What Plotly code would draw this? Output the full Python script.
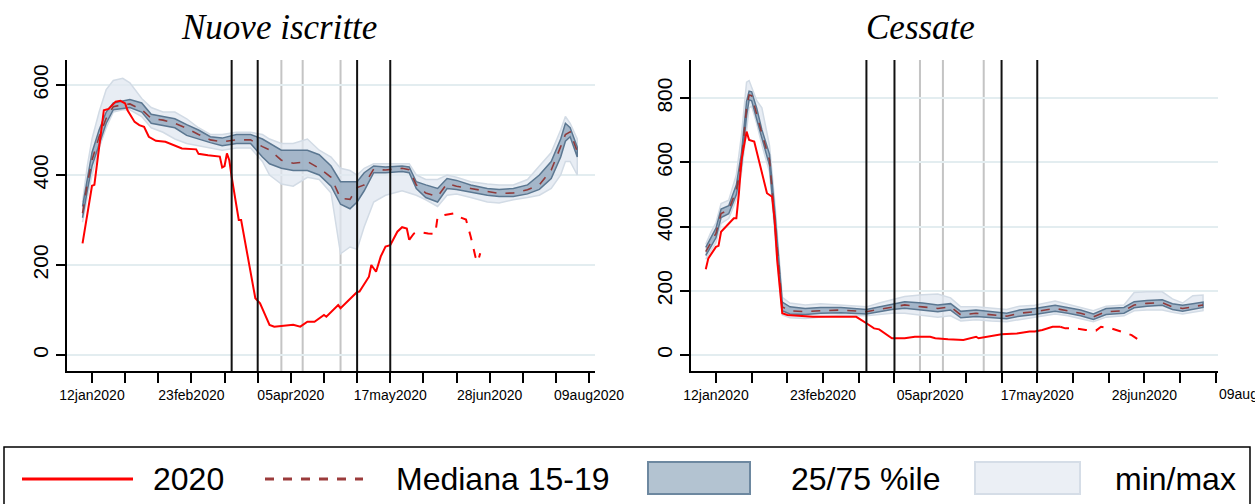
import plotly.graph_objects as go

W, H = 1255, 504

# ---------------- DATA: Nuove iscritte (left) ----------------
L_dates = ["2020-01-08","2020-01-10","2020-01-12","2020-01-15","2020-01-18","2020-01-21","2020-01-25","2020-01-28",
           "2020-02-02","2020-02-06","2020-02-11","2020-02-16","2020-02-21","2020-02-26",
           "2020-03-02","2020-03-07","2020-03-13","2020-03-19","2020-03-24","2020-03-27",
           "2020-04-01","2020-04-06","2020-04-12","2020-04-17","2020-04-22","2020-04-26","2020-04-30",
           "2020-05-03","2020-05-06","2020-05-10","2020-05-15","2020-05-22","2020-05-25","2020-05-28",
           "2020-06-01","2020-06-06","2020-06-10","2020-06-14","2020-06-20","2020-06-27",
           "2020-07-02","2020-07-08","2020-07-14","2020-07-19","2020-07-24","2020-07-28","2020-07-30",
           "2020-08-01","2020-08-04"]
L_median = [315,380,433,485,526,552,556,558, 545,526,522,515,504,490, 478,474,478,478,463,456,
            433,426,430,415,395,348,346, 372,378,413,411,415,412,378, 360,352,381,375,370,363,
            359,360,367,378,411,463,490, 496,452]
L_p75 = [330,395,450,500,540,560,565,568, 560,535,530,525,512,500, 485,482,490,490,480,470,
         455,455,455,445,420,385,385, 385,405,420,418,420,418,385, 378,370,392,388,378,370,
         368,370,378,400,430,480,515, 505,462]
L_p25 = [305,365,420,470,515,545,548,550, 540,515,510,505,488,480, 472,465,470,470,440,425,
         415,410,410,400,375,335,325, 340,365,405,405,408,405,370, 350,340,370,368,362,355,
         352,352,358,368,392,440,475, 485,440]
L_max = [340,420,480,540,590,610,615,605, 570,550,540,540,525,505, 490,490,495,495,490,480,
         470,470,480,455,440,415,410, 400,415,425,425,425,425,400, 390,390,400,395,385,380,
         378,378,390,420,450,500,530, 515,480]
L_min = [295,350,400,460,505,540,545,545, 530,505,495,480,470,465, 460,455,460,460,430,400,
         380,375,395,390,360,225,240, 235,285,340,355,365,360,355, 345,330,355,358,350,340,
         338,345,350,355,370,400,430, 430,400]

L_red_dates = ["2020-01-08","2020-01-12","2020-01-13","2020-01-17","2020-01-19","2020-01-22","2020-01-24","2020-01-26","2020-01-27","2020-01-30",
               "2020-02-01","2020-02-03","2020-02-05","2020-02-08","2020-02-12","2020-02-15","2020-02-19","2020-02-25","2020-02-26",
               "2020-03-01","2020-03-06","2020-03-07","2020-03-08","2020-03-09","2020-03-10","2020-03-11","2020-03-14","2020-03-15","2020-03-21","2020-03-23","2020-03-27","2020-03-29",
               "2020-04-06","2020-04-09","2020-04-12","2020-04-15","2020-04-19","2020-04-20","2020-04-25","2020-04-26",
               "2020-05-01","2020-05-03","2020-05-04","2020-05-08","2020-05-09","2020-05-11","2020-05-13","2020-05-15","2020-05-17","2020-05-20","2020-05-22","2020-05-24","2020-05-25"]
L_red = [248,376,378,544,547,563,565,559,544,518,
         511,507,485,476,474,467,459,457,447,
         444,441,417,420,448,433,396,300,300,126,115,67,63,
         67,63,74,74,89,85,111,104,
         130,140,141,174,200,185,219,241,244,274,284,281,256]
L_red_prov_dates = ["2020-05-25","2020-05-27","2020-05-29","2020-06-02","2020-06-05","2020-06-06","2020-06-09",
                    "2020-06-13","2020-06-15","2020-06-18","2020-06-20","2020-06-22","2020-06-23","2020-06-24"]
L_red_prov = [256,270,274,270,269,307,311,315,307,301,263,218,207,226]

# ---------------- DATA: Cessate (right) ----------------
R_dates = ["2020-01-08","2020-01-10","2020-01-12","2020-01-14","2020-01-17","2020-01-20","2020-01-22","2020-01-24","2020-01-25","2020-01-26","2020-01-28","2020-01-30",
           "2020-02-02","2020-02-04","2020-02-05","2020-02-07","2020-02-10","2020-02-16","2020-02-22",
           "2020-03-01","2020-03-11","2020-03-16","2020-03-21","2020-03-26",
           "2020-04-02","2020-04-08","2020-04-13","2020-04-17","2020-04-23","2020-04-29",
           "2020-05-05","2020-05-10","2020-05-16","2020-05-24","2020-05-29",
           "2020-06-03","2020-06-08","2020-06-13","2020-06-20","2020-06-24","2020-06-29",
           "2020-07-05","2020-07-09","2020-07-13","2020-07-17","2020-07-21"]
R_median = [322,350,379,441,452,514,607,770,810,808,753,690, 607,431,340,150,138,135,138,
            140,135,142,150,156, 150,145,150,125,130,125, 121,130,135,145,138,
            130,119,135,138,156,161, 163,150,145,150,156]
R_p75 = [335,365,395,455,465,530,630,790,822,820,768,702, 625,455,365,165,150,145,148,
         148,142,150,160,166, 162,156,160,136,140,134, 130,140,145,155,148,
         140,128,145,148,166,170, 172,160,155,160,165]
R_p25 = [310,336,365,428,440,500,588,745,795,792,738,676, 590,410,315,138,128,126,130,
         132,128,135,142,146, 140,135,140,116,120,116, 113,121,126,136,130,
         122,111,126,130,147,152, 155,142,136,142,148]
R_max = [345,382,412,472,482,562,685,850,855,832,792,770, 652,482,385,180,162,156,160,
         156,150,162,172,182, 188,190,178,150,150,146, 142,152,155,168,158,
         150,138,152,156,195,197, 197,175,162,185,187]
R_min = [298,325,350,410,425,485,568,700,770,775,720,655, 570,390,295,125,116,114,118,
         124,122,126,130,130, 124,118,122,106,110,106, 104,112,118,128,122,
         114,104,118,122,138,140, 140,133,128,133,138]

R_red_dates = ["2020-01-08","2020-01-09","2020-01-12","2020-01-13","2020-01-14","2020-01-16","2020-01-19","2020-01-20","2020-01-21","2020-01-22","2020-01-24","2020-01-25","2020-01-27",
               "2020-02-01","2020-02-03","2020-02-04","2020-02-05","2020-02-07","2020-02-09","2020-02-19","2020-02-24",
               "2020-03-01","2020-03-07","2020-03-11","2020-03-14","2020-03-16","2020-03-21","2020-03-26","2020-03-30",
               "2020-04-05","2020-04-07","2020-04-12","2020-04-18","2020-04-23","2020-04-24",
               "2020-05-03","2020-05-09","2020-05-14","2020-05-16","2020-05-19","2020-05-23","2020-05-26"]
R_red = [267,301,337,340,384,400,426,426,504,607,696,670,665,
         504,493,421,296,130,125,119,119,
         121,119,99,83,80,52,52,57,
         57,52,49,47,57,52,
         65,67,73,73,78,88,88]
R_red_prov_dates = ["2020-05-26","2020-05-28","2020-06-01","2020-06-05","2020-06-09","2020-06-11",
                    "2020-06-15","2020-06-19","2020-06-23","2020-06-27"]
R_red_prov = [88,83,83,78,76,88,83,73,62,41]

# event lines
BLACK_LINES = ["2020-03-11", "2020-03-22", "2020-05-03", "2020-05-17"]
GRAY_LINES = ["2020-04-01", "2020-04-10", "2020-04-26"]

# ticks
TICK_DATES = ["2020-01-12","2020-01-26","2020-02-09","2020-02-23","2020-03-08","2020-03-22","2020-04-05",
              "2020-04-19","2020-05-03","2020-05-17","2020-05-31","2020-06-14","2020-06-28","2020-07-12",
              "2020-07-26","2020-08-09"]
TICK_TEXT = ["12jan2020","","","23feb2020","","","05apr2020","","","17may2020","","","28jun2020","","","09aug2020"]

LEG_NAMES = ["2020", "Mediana 15-19", "25/75 %ile", "min/max"]

RED = "#ff0000"
MED = "#8f3a3a"
IQR_FILL = "rgba(145,167,188,0.78)"
IQR_LINE = "#5b7791"
MM_FILL = "rgba(224,231,240,0.75)"
MM_LINE = "#d2dbe5"

def px_x(x):
    return x / W

def px_y(y):
    return 1 - y / H

fig = go.Figure()

def band(xs, lo, hi, fill, line, xa, ya):
    fig.add_trace(go.Scatter(x=list(xs) + list(xs)[::-1], y=list(hi) + list(lo)[::-1],
                             fill="toself", fillcolor=fill, mode="lines",
                             line=dict(color=line, width=1.5), xaxis=xa, yaxis=ya,
                             showlegend=False, hoverinfo="skip"))

for (d, med, p25, p75, mn, mx, rd, rv, pd_, pv, xa, ya) in [
    (L_dates, L_median, L_p25, L_p75, L_min, L_max, L_red_dates, L_red, L_red_prov_dates, L_red_prov, "x", "y"),
    (R_dates, R_median, R_p25, R_p75, R_min, R_max, R_red_dates, R_red, R_red_prov_dates, R_red_prov, "x2", "y2"),
]:
    band(d, mn, mx, MM_FILL, MM_LINE, xa, ya)
    band(d, p25, p75, IQR_FILL, IQR_LINE, xa, ya)
    fig.add_trace(go.Scatter(x=d, y=med, mode="lines", line=dict(color=MED, width=1.6, dash="dash"),
                             xaxis=xa, yaxis=ya, showlegend=False))
    fig.add_trace(go.Scatter(x=rd, y=rv, mode="lines", line=dict(color=RED, width=2),
                             xaxis=xa, yaxis=ya, showlegend=False))
    fig.add_trace(go.Scatter(x=pd_, y=pv, mode="lines", line=dict(color=RED, width=2, dash="dash"),
                             xaxis=xa, yaxis=ya, showlegend=False))

shapes = []
for xa, ya in [("x", "y"), ("x2", "y2")]:
    for d in GRAY_LINES:
        shapes.append(dict(type="line", xref=xa, yref=ya + " domain", x0=d, x1=d, y0=0, y1=1,
                           line=dict(color="#c4c4c4", width=2), layer="below"))
    for d in BLACK_LINES:
        shapes.append(dict(type="line", xref=xa, yref=ya + " domain", x0=d, x1=d, y0=0, y1=1,
                           line=dict(color="#111111", width=2), layer="above"))

# legend drawing
shapes.append(dict(type="rect", xref="paper", yref="paper", x0=px_x(4), x1=px_x(1250),
                   y0=px_y(530), y1=px_y(447), line=dict(color="black", width=1.5)))
shapes.append(dict(type="line", xref="paper", yref="paper", x0=px_x(22), x1=px_x(133),
                   y0=px_y(479), y1=px_y(479), line=dict(color=RED, width=3)))
shapes.append(dict(type="line", xref="paper", yref="paper", x0=px_x(265), x1=px_x(363),
                   y0=px_y(479), y1=px_y(479), line=dict(color="#9b3b3b", width=3, dash="dash")))
shapes.append(dict(type="rect", xref="paper", yref="paper", x0=px_x(648), x1=px_x(750),
                   y0=px_y(494), y1=px_y(462), fillcolor="#b3c3d1", line=dict(color="#6d88a0", width=2)))
shapes.append(dict(type="rect", xref="paper", yref="paper", x0=px_x(975), x1=px_x(1080),
                   y0=px_y(494), y1=px_y(462), fillcolor="#ebeff5", line=dict(color="#d5dde7", width=2)))

annotations = []
for txt, x in zip(LEG_NAMES, [151, 394, 789, 1113]):
    annotations.append(dict(text=txt, xref="paper", yref="paper", x=px_x(x), y=px_y(479),
                            xanchor="left", yanchor="middle", showarrow=False,
                            font=dict(family="Liberation Sans", size=32, color="black")))
for txt, x in [("Nuove iscritte", 279), ("Cessate", 920)]:
    annotations.append(dict(text="<i>" + txt + "</i>", xref="paper", yref="paper", x=px_x(x), y=px_y(27),
                            xanchor="center", yanchor="middle", showarrow=False,
                            font=dict(family="Liberation Serif", size=35, color="black")))
# right panel: label of the tick beyond its axis end (cut by the page edge, as in the original)
annotations.append(dict(text="09aug2020", xref="paper", yref="paper", x=px_x(1217), y=px_y(394),
                        xanchor="left", yanchor="middle", showarrow=False,
                        font=dict(family="Liberation Sans", size=14, color="black")))

xcommon = dict(type="date", tickmode="array", tickvals=TICK_DATES, ticktext=TICK_TEXT,
               ticks="outside", ticklen=10, tickwidth=1.5, tickcolor="black",
               showline=True, linecolor="black", linewidth=1.5, showgrid=False, zeroline=False,
               tickfont=dict(family="Liberation Sans", size=14, color="black"), tickangle=0,
               automargin=False)
ycommon = dict(ticks="outside", ticklen=9, tickwidth=1.5, tickcolor="black",
               showline=True, linecolor="black", linewidth=1.5, showgrid=True,
               gridcolor="#e3edf0", gridwidth=1.5, zeroline=False, tickangle=-90,
               tickfont=dict(family="Liberation Sans", size=21, color="black"), automargin=False)

fig.update_layout(
    width=W, height=H, template="none",
    paper_bgcolor="white", plot_bgcolor="white",
    margin=dict(l=0, r=0, t=0, b=0), showlegend=False,
    xaxis=dict(domain=[px_x(67), px_x(595)], range=["2020-01-01 10:30", "2020-08-11 12:00"], anchor="y", **xcommon),
    yaxis=dict(domain=[px_y(371), px_y(60)], range=[-35.6, 655.6], anchor="x",
               tickvals=[0, 200, 400, 600], **ycommon),
    xaxis2=dict(domain=[px_x(691), px_x(1218)], range=["2020-01-02 05:00", "2020-07-26 21:00"], anchor="y2", **xcommon),
    yaxis2=dict(domain=[px_y(371), px_y(60)], range=[-49.8, 919], anchor="x2",
                tickvals=[0, 200, 400, 600, 800], **ycommon),
    shapes=shapes, annotations=annotations,
)

fig.write_html("out.html")
